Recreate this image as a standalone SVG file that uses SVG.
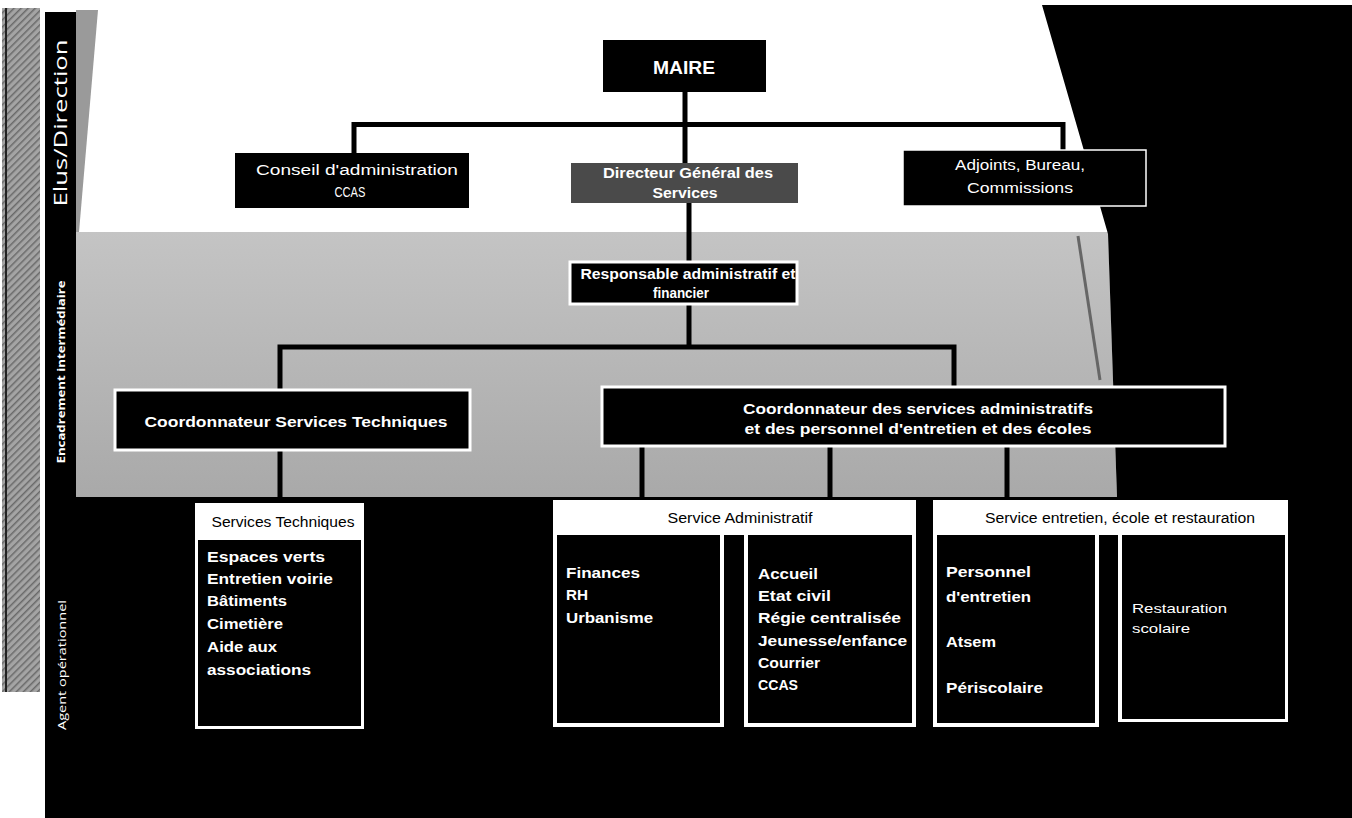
<svg xmlns="http://www.w3.org/2000/svg" width="1352" height="818" viewBox="0 0 1352 818">
<style>
.lbl{font-family:"Liberation Sans",Arial,sans-serif;fill:#fff}
.b{font-weight:bold}
.hdr{font-family:"Liberation Sans",Arial,sans-serif;fill:#000;font-size:14px}
.side{font-family:"Open Sans","Liberation Sans",sans-serif;fill:#fff}
.blk{fill:#000}
.wb{fill:#000;stroke:#fff;stroke-width:3}
.con{stroke:#000;stroke-width:5;fill:none}
</style>
<defs>
<linearGradient id="band" x1="0" y1="0" x2="0" y2="1">
<stop offset="0" stop-color="#c4c4c4"/>
<stop offset="1" stop-color="#a9a9a9"/>
</linearGradient>
<pattern id="hatch" width="5" height="5" patternUnits="userSpaceOnUse" patternTransform="rotate(45)">
<rect width="5" height="5" fill="#a4a4a4"/>
<rect width="1.5" height="5" fill="#6a6a6a"/>
</pattern>
</defs>
<rect width="1352" height="818" fill="#fff"/>
<g id="background">
<rect x="2" y="8" width="38" height="684" fill="url(#hatch)"/>
<rect x="5" y="8" width="2" height="684" fill="#222"/>
<polygon points="76,10 98,10 79,232 76,232" fill="#9a9a9a"/>
<polygon points="76,232 1108,232 1117,497 76,497" fill="url(#band)"/>
<polygon points="1042,5 1352,5 1352,818 45,818 45,497 1117,497 1108,234" fill="#000"/>
<rect x="45" y="12" width="31" height="486" fill="#000"/>
<line x1="1078" y1="236" x2="1100" y2="380" stroke="#666" stroke-width="3"/>
</g>
<g id="side-labels">
<text class="side" transform="translate(67,123) rotate(-90)" text-anchor="middle" font-size="19" textLength="167" lengthAdjust="spacingAndGlyphs">Elus/Direction</text>
<text class="side b" transform="translate(65,372) rotate(-90)" text-anchor="middle" font-size="10" textLength="183" lengthAdjust="spacingAndGlyphs">Encadrement intermédiaire</text>
<text class="side" transform="translate(66,665) rotate(-90)" text-anchor="middle" font-size="10" textLength="130" lengthAdjust="spacingAndGlyphs">Agent opérationnel</text>
</g>
<g id="connectors">
<line class="con" x1="685" y1="92" x2="685" y2="163"/>
<polyline class="con" points="354,153 354,124.5 1063,124.5 1063,150"/>
<line class="con" x1="689" y1="203" x2="689" y2="262"/>
<line class="con" x1="689" y1="304" x2="689" y2="347"/>
<polyline class="con" points="280,390 280,347 954,347 954,387" stroke-width="6"/>
<line class="con" x1="280" y1="450" x2="280" y2="503"/>
<line class="con" x1="642" y1="446" x2="642" y2="500"/>
<line class="con" x1="830" y1="446" x2="830" y2="500"/>
<line class="con" x1="1007" y1="446" x2="1007" y2="500"/>
</g>
<g id="maire">
<rect class="blk" x="603" y="40" width="163" height="52"/>
<text class="lbl b" x="684" y="74" text-anchor="middle" font-size="18" textLength="62" lengthAdjust="spacingAndGlyphs">MAIRE</text>
</g>
<g id="conseil">
<rect class="blk" x="235" y="153" width="234" height="55"/>
<text class="lbl" x="357" y="175" text-anchor="middle" font-size="14" textLength="202" lengthAdjust="spacingAndGlyphs">Conseil d'administration</text>
<text class="lbl" x="350" y="197" text-anchor="middle" font-size="15" textLength="31" lengthAdjust="spacingAndGlyphs">CCAS</text>
</g>
<g id="dgs">
<rect x="571" y="163" width="227" height="40" fill="#4a4a4a"/>
<text class="lbl b" x="688" y="178" text-anchor="middle" font-size="14" textLength="170" lengthAdjust="spacingAndGlyphs">Directeur Général des</text>
<text class="lbl b" x="685" y="198" text-anchor="middle" font-size="14" textLength="65" lengthAdjust="spacingAndGlyphs">Services</text>
</g>
<g id="adjoints">
<rect class="blk" x="903" y="150" width="243" height="56" stroke="#fff" stroke-width="1.5"/>
<text class="lbl" x="1020" y="170" text-anchor="middle" font-size="14" textLength="130" lengthAdjust="spacingAndGlyphs">Adjoints, Bureau,</text>
<text class="lbl" x="1020" y="193" text-anchor="middle" font-size="14" textLength="106" lengthAdjust="spacingAndGlyphs">Commissions</text>
</g>
<g id="responsable">
<rect class="wb" x="570" y="262" width="227" height="42"/>
<text class="lbl b" x="688" y="279" text-anchor="middle" font-size="14" textLength="215" lengthAdjust="spacingAndGlyphs">Responsable administratif et</text>
<text class="lbl b" x="681" y="298" text-anchor="middle" font-size="14" textLength="56" lengthAdjust="spacingAndGlyphs">financier</text>
</g>
<g id="coord-st">
<rect class="wb" x="115" y="390" width="355" height="60"/>
<text class="lbl b" x="296" y="427" text-anchor="middle" font-size="15" textLength="303" lengthAdjust="spacingAndGlyphs">Coordonnateur Services Techniques</text>
</g>
<g id="coord-admin">
<rect class="wb" x="602" y="387" width="623" height="59"/>
<text class="lbl b" x="918" y="414" text-anchor="middle" font-size="14" textLength="350" lengthAdjust="spacingAndGlyphs">Coordonnateur des services administratifs</text>
<text class="lbl b" x="918" y="434" text-anchor="middle" font-size="14" textLength="347" lengthAdjust="spacingAndGlyphs">et des personnel d'entretien et des écoles</text>
</g>
<g id="services-techniques">
<rect x="195" y="503" width="169" height="226" fill="#fff"/>
<rect class="blk" x="198" y="540" width="163" height="186"/>
<text class="hdr" x="283" y="527" text-anchor="middle" textLength="143" lengthAdjust="spacingAndGlyphs">Services Techniques</text>
<g class="lbl b" font-size="14">
<text x="207" y="562" textLength="118" lengthAdjust="spacingAndGlyphs">Espaces verts</text>
<text x="207" y="584" textLength="126" lengthAdjust="spacingAndGlyphs">Entretien voirie</text>
<text x="207" y="606" textLength="80" lengthAdjust="spacingAndGlyphs">Bâtiments</text>
<text x="207" y="629" textLength="76" lengthAdjust="spacingAndGlyphs">Cimetière</text>
<text x="207" y="652" textLength="70" lengthAdjust="spacingAndGlyphs">Aide aux</text>
<text x="207" y="675" textLength="104" lengthAdjust="spacingAndGlyphs">associations</text>
</g>
</g>
<g id="service-administratif">
<rect x="553" y="500" width="363" height="35" fill="#fff"/>
<rect x="553" y="500" width="171" height="227" fill="#fff"/>
<rect x="744" y="500" width="172" height="227" fill="#fff"/>
<rect class="blk" x="557" y="535" width="163" height="188"/>
<rect class="blk" x="748" y="535" width="164" height="188"/>
<text class="hdr" x="740" y="523" text-anchor="middle" textLength="145" lengthAdjust="spacingAndGlyphs">Service Administratif</text>
<g class="lbl b" font-size="14">
<text x="566" y="578" textLength="74" lengthAdjust="spacingAndGlyphs">Finances</text>
<text x="566" y="600" textLength="22" lengthAdjust="spacingAndGlyphs">RH</text>
<text x="566" y="623" textLength="87" lengthAdjust="spacingAndGlyphs">Urbanisme</text>
<text x="758" y="579" textLength="60" lengthAdjust="spacingAndGlyphs">Accueil</text>
<text x="758" y="601" textLength="73" lengthAdjust="spacingAndGlyphs">Etat civil</text>
<text x="758" y="623" textLength="143" lengthAdjust="spacingAndGlyphs">Régie centralisée</text>
<text x="758" y="646" textLength="149" lengthAdjust="spacingAndGlyphs">Jeunesse/enfance</text>
<text x="758" y="668" textLength="62" lengthAdjust="spacingAndGlyphs">Courrier</text>
<text x="758" y="690" textLength="40" lengthAdjust="spacingAndGlyphs">CCAS</text>
</g>
</g>
<g id="service-entretien">
<rect x="933" y="500" width="355" height="35" fill="#fff"/>
<rect x="933" y="500" width="166" height="227" fill="#fff"/>
<rect x="1118" y="500" width="170" height="222" fill="#fff"/>
<rect class="blk" x="937" y="535" width="158" height="188"/>
<rect class="blk" x="1122" y="535" width="163" height="184"/>
<text class="hdr" x="1120" y="523" text-anchor="middle" textLength="270" lengthAdjust="spacingAndGlyphs">Service entretien, école et restauration</text>
<g class="lbl b" font-size="14">
<text x="946" y="577" textLength="85" lengthAdjust="spacingAndGlyphs">Personnel</text>
<text x="946" y="602" textLength="85" lengthAdjust="spacingAndGlyphs">d'entretien</text>
<text x="946" y="647" textLength="50" lengthAdjust="spacingAndGlyphs">Atsem</text>
<text x="946" y="693" textLength="97" lengthAdjust="spacingAndGlyphs">Périscolaire</text>
</g>
<g class="lbl" font-size="13">
<text x="1132" y="613" textLength="95" lengthAdjust="spacingAndGlyphs">Restauration</text>
<text x="1132" y="633" textLength="58" lengthAdjust="spacingAndGlyphs">scolaire</text>
</g>
</g>
</svg>
